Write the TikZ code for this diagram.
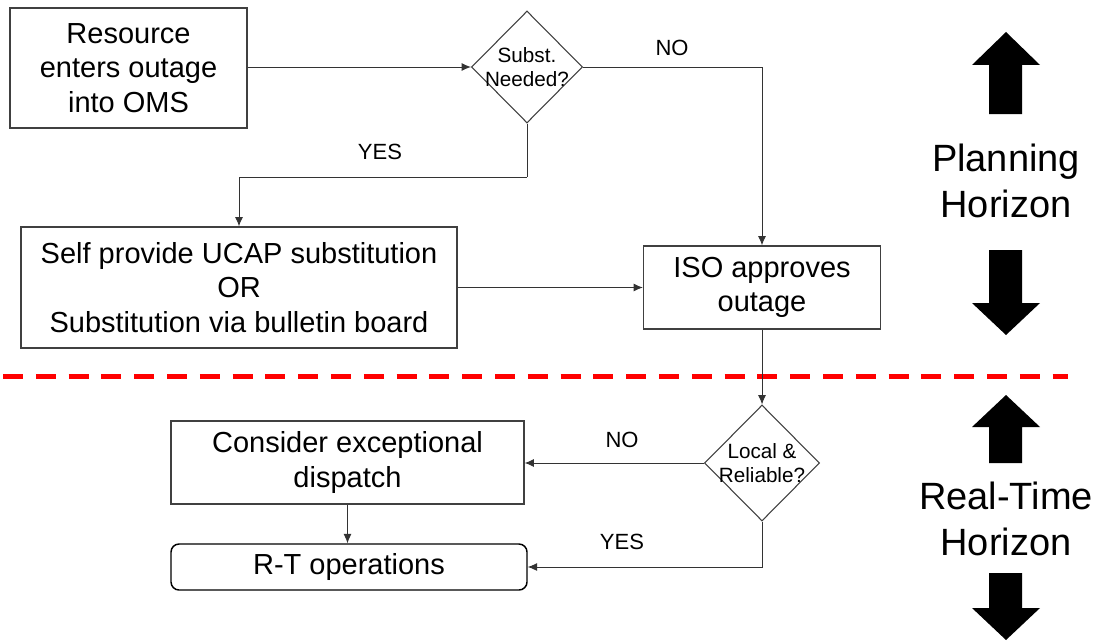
\documentclass[tikz,border=0pt]{standalone}
\usepackage{fontspec}
\setmainfont{Liberation Sans}
\usepackage{tikz}
\usetikzlibrary{positioning}
\usetikzlibrary{calc}
\usetikzlibrary{shapes,arrows.meta}

\begin{document}
\begin{tikzpicture}[x=0.75pt,y=-0.75pt]

% used shapes
\tikzstyle{block} = [rectangle, draw=black!75, line width=0.9pt, align=center, inner sep=2pt, font=\fontsize{21.75}{26}\selectfont]
\tikzstyle{decision} = [diamond, draw=black!75, line width=0.8pt, align=center, inner sep=-4.5pt, font=\fontsize{15.5}{18.5}\selectfont]
\tikzstyle{blockrounded} = [rectangle, draw=black, line width=1.1pt, rounded corners=6pt, align=center, font=\fontsize{21.75}{26}\selectfont]
\tikzstyle{lbl} = [font=\fontsize{16.5}{20}\selectfont]
\tikzstyle{horizon} = [align=center, font=\fontsize{28.5}{35}\selectfont]
\tikzstyle{line} = [draw=black!80, line width=0.7pt]
\tikzstyle{arrow} = [line, -{Latex[length=7pt,width=6pt]}]
\tikzstyle{bigarrow} = [fill=black]

\useasboundingbox (0,0) rectangle (1099,642);

% planning part
\node [block, minimum width=177.75pt, minimum height=90pt] (resource) at (128.5,68) {Resource\\enters outage\\into OMS};
\node [decision, minimum width=83.25pt, minimum height=84pt] (subst) at (527,67) {Subst.\\Needed?};
\node [block, minimum width=327pt, minimum height=90.75pt] (selfsub) at (239,287.5) {Self provide UCAP substitution\\OR\\Substitution via bulletin board};
\node [block, minimum width=177.75pt, minimum height=62.25pt] (iso) at (762,287.5) {ISO approves\\outage};

\coordinate (yesturn) at (527,177);

\draw [arrow] (resource.east |- subst.west) -- (subst.west);
\draw [arrow] (subst.east) -| (iso.north);
\draw [line] (subst.south) -- (yesturn);
\draw [arrow] (yesturn) -| (selfsub.north);
\draw [arrow] (selfsub.east) -- (iso.west);

\node [lbl] (no1) at (672,48) {NO};
\node [lbl] (yes1) at (380,152) {YES};

% border between horizons
\draw [red, line width=3.75pt, dash pattern=on 15pt off 9.6pt] (3,376) -- (1068,376);

% real-time part
\node [decision, minimum width=86.25pt, minimum height=87pt] (local) at (762,463) {Local \&\\Reliable?};
\node [block, minimum width=264.75pt, minimum height=62.25pt] (consider) at (347.5,462.5) {Consider exceptional\\dispatch};
\node [blockrounded, minimum width=267pt, minimum height=34.5pt] (rtops) at (349,567) {R-T operations};

\draw [arrow] (iso.south) -- (iso.south |- local.north);
\draw [arrow] (local.west) -- (local.west -| consider.east);
\draw [arrow] (consider.south) -- (consider.south |- rtops.north);
\draw [arrow] (local.south) |- (rtops.east);

\node [lbl] (no2) at (622,440) {NO};
\node [lbl] (yes2) at (622,542) {YES};

% horizons
\node [horizon] (planning) at (1006,181) {Planning\\Horizon};
\node [horizon] (realtime) at (1006,519) {Real-Time\\Horizon};

\fill [bigarrow] (1006,32) -- (1040,65) -- (1022,65) -- (1022,114) -- (989,114) -- (989,65) -- (972,65) -- cycle;
\fill [bigarrow] (989,250) -- (1022,250) -- (1022,303) -- (1040,303) -- (1006,335) -- (972,303) -- (989,303) -- cycle;
\fill [bigarrow] (1006,395) -- (1040,427) -- (1022,427) -- (1022,463) -- (989,463) -- (989,427) -- (972,427) -- cycle;
\fill [bigarrow] (989,573) -- (1022,573) -- (1022,608) -- (1040,608) -- (1006,640) -- (972,608) -- (989,608) -- cycle;

\end{tikzpicture}
\end{document}
